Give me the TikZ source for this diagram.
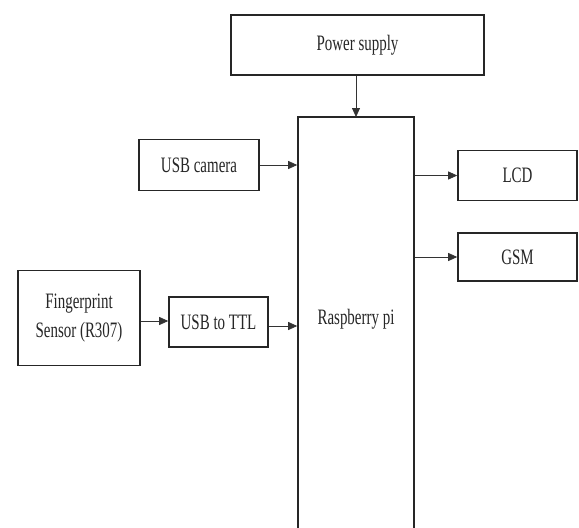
\documentclass[tikz,border=0pt]{standalone}
\usepackage{fontspec}
\setmainfont{Liberation Serif}
\usetikzlibrary{arrows.meta}
\newcommand{\cnd}[1]{\scalebox{0.68}[1]{#1}}
\begin{document}
\begin{tikzpicture}[x=1pt,y=1pt,
  box/.style={draw=black!85, line width=1.6pt, inner sep=0pt, text=black!85,
    font=\fontsize{22}{26}\selectfont},
  arr/.style={draw=black!80, line width=0.8pt, -{Triangle[length=9pt,width=8pt]}},
  lbl/.style={text=black!85, font=\fontsize{22}{26}\selectfont, inner sep=0pt}]
\useasboundingbox (0,0) rectangle (579,-528);
\fill[white] (0,0) rectangle (579,-528);
\begin{scope}
\clip (0,0) rectangle (579,-528);
\node[box, minimum width=253pt, minimum height=60pt] (ps) at (357.5,-45) {\cnd{Power supply}};
\node[box, minimum width=116pt, minimum height=420pt] (rpi) at (356,-327) {};
\node[lbl] (rpil) at (356,-319) {\cnd{Raspberry pi}};
\node[box, minimum width=120pt, minimum height=51pt] (cam) at (199,-165) {\cnd{USB camera}};
\node[box, minimum width=119pt, minimum height=50pt] (lcd) at (517.5,-175.5) {\cnd{LCD}};
\node[box, minimum width=119pt, minimum height=48pt] (gsm) at (517.5,-257) {\cnd{GSM}};
\node[box, minimum width=122pt, minimum height=95pt, align=center] (fp) at (79,-318) {\cnd{Fingerprint}\\[3pt]\cnd{Sensor (R307)}};
\node[box, minimum width=99pt, minimum height=50pt] (ttl) at (218.5,-322) {\cnd{USB to TTL}};
\draw[arr] (ps.south -| 356,0) -- (356,-117);
\draw[arr] (cam.east) -- (cam.east -| rpi.west);
\draw[arr] (rpi.east |- lcd.west) -- (lcd.west);
\draw[arr] (rpi.east |- gsm.west) -- (gsm.west);
\draw[arr] ([yshift=-3pt]fp.east) -- ([yshift=-3pt]fp.east -| ttl.west);
\draw[arr] ([yshift=-4pt]ttl.east) -- ([yshift=-4pt]ttl.east -| rpi.west);
\end{scope}
\end{tikzpicture}
\end{document}
